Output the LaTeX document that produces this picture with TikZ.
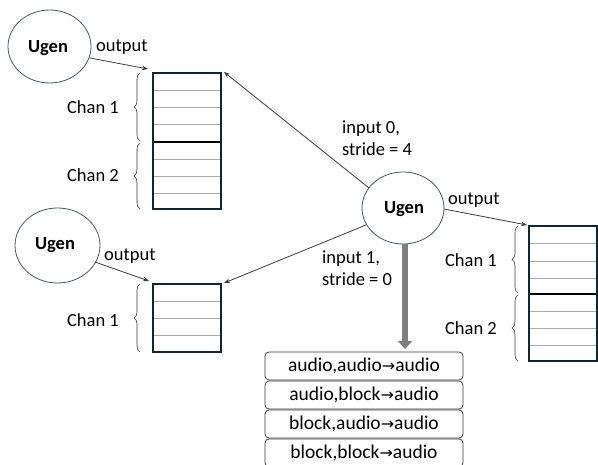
\documentclass[tikz,border=0pt]{standalone}
\usepackage{fontspec}
\setmainfont{Carlito}
\newfontfamily\symfont{DejaVu Sans}
\usetikzlibrary{arrows.meta,decorations.pathreplacing}
\definecolor{ringc}{HTML}{3A5A6A}
\definecolor{bufc}{HTML}{0F2535}
\definecolor{linec}{HTML}{3A3A3A}
\definecolor{rowc}{HTML}{A8A8A8}
\definecolor{fatc}{HTML}{7F7F7F}
\newcommand{\ar}{{\symfont\fontsize{16}{16}\selectfont\raisebox{0.5pt}{→}}}
\tikzset{
  lbl/.style={font=\fontsize{18.5}{22}\selectfont,inner sep=0pt},
  rlbl/.style={font=\fontsize{19.5}{22}\selectfont,inner sep=0pt},
  ulbl/.style={font=\fontsize{18.5}{20}\selectfont\bfseries,inner sep=0pt},
  conn/.style={draw=linec,line width=0.8pt,-{Stealth[length=6pt,width=4.5pt]}},
  buf/.style={draw=bufc,line width=2.6pt},
  rowline/.style={draw=rowc,line width=0.8pt},
  divline/.style={draw=black,line width=2.6pt},
  brc/.style={draw=linec,line width=0.6pt,decorate,decoration={brace,amplitude=6pt}},
  rowbox/.style={draw=linec,line width=0.8pt,rounded corners=4pt},
}
\begin{document}
\begin{tikzpicture}[x=1pt,y=-1pt]
\useasboundingbox (0,0) rectangle (598,465);
\clip (0,0) rectangle (598,465);
% ellipses
\draw[draw=ringc,line width=0.8pt] (49.5,46.5) ellipse [x radius=41.5,y radius=36.5];
\draw[draw=ringc,line width=0.8pt] (57.5,245.5) ellipse [x radius=42.5,y radius=37.5];
\draw[draw=ringc,line width=0.8pt] (403,208) ellipse [x radius=41,y radius=36];
\node[ulbl] (u1) at (48,48) {Ugen};
\node[ulbl] (u2) at (55,245) {Ugen};
\node[ulbl] (u3) at (404,209) {Ugen};
\coordinate (u1o) at (90,58);
\coordinate (u2o) at (95,262);
\coordinate (u3a) at (369,188);
\coordinate (u3b) at (366,225);
\coordinate (u3c) at (444,209);
\coordinate (u3d) at (405,244);
% buffer 1
\foreach \y in {90,107,124,159,176,193} \draw[rowline] (153,\y) -- (221,\y);
\draw[divline] (153,142) -- (221,142);
\draw[buf] (153,73) rectangle (221,209);
\coordinate (b1r) at (224,72);
% buffer 2
\foreach \y in {301,318,335} \draw[rowline] (153,\y) -- (221,\y);
\draw[buf] (153,284) rectangle (221,352);
\coordinate (b2r) at (224,283);
% buffer 3
\foreach \y in {243,261,278,311,328,345} \draw[rowline] (529,\y) -- (597,\y);
\draw[divline] (529,294) -- (597,294);
\draw[buf] (529,226) rectangle (597,361);
% braces
\draw[brc] (140,141) -- (140,73);
\draw[brc] (140,209) -- (140,143);
\draw[brc] (140,352) -- (140,284);
\draw[brc] (518,293) -- (518,226);
\draw[brc] (518,361) -- (518,295);
\node[lbl,anchor=east] (c11) at (119,107) {Chan 1};
\node[lbl,anchor=east] (c12) at (119,175) {Chan 2};
\node[lbl,anchor=east] (c21) at (119,320) {Chan 1};
\node[lbl,anchor=east] (c31) at (497,260) {Chan 1};
\node[lbl,anchor=east] (c32) at (497,328) {Chan 2};
% connectors
\draw[conn] (u1o) -- (148,69);
\draw[conn] (u2o) -- (149,281);
\draw[conn] (u3a) -- (b1r);
\draw[conn] (u3b) -- (b2r);
\draw[conn] (u3c) -- (527,225);
\node[lbl,anchor=west] (o1) at (96,47) {output};
\node[lbl,anchor=west] (o2) at (104,256) {output};
\node[lbl,anchor=west] (o3) at (448,200) {output};
\node[lbl,anchor=north west,align=left] (i0) at (342,121) {input 0,\\stride = 4};
\node[lbl,anchor=north west,align=left] (i1) at (322,251) {input 1,\\stride = 0};
% fat arrow
\coordinate (fat) at (405,349);
\draw[fatc,line width=6.5pt,-{Triangle[length=8pt,width=14pt]}] (u3d) -- (fat);
% rows
\foreach \t/\a/\b in {0/audio/audio,1/audio/block,2/block/audio,3/block/block}{
  \draw[rowbox] (265,{352+\t*29}) rectangle (463,{380+\t*29});
  \node[rlbl] at (364,{366+\t*29}) {\a,\b\ar audio};
}
\end{tikzpicture}
\end{document}
